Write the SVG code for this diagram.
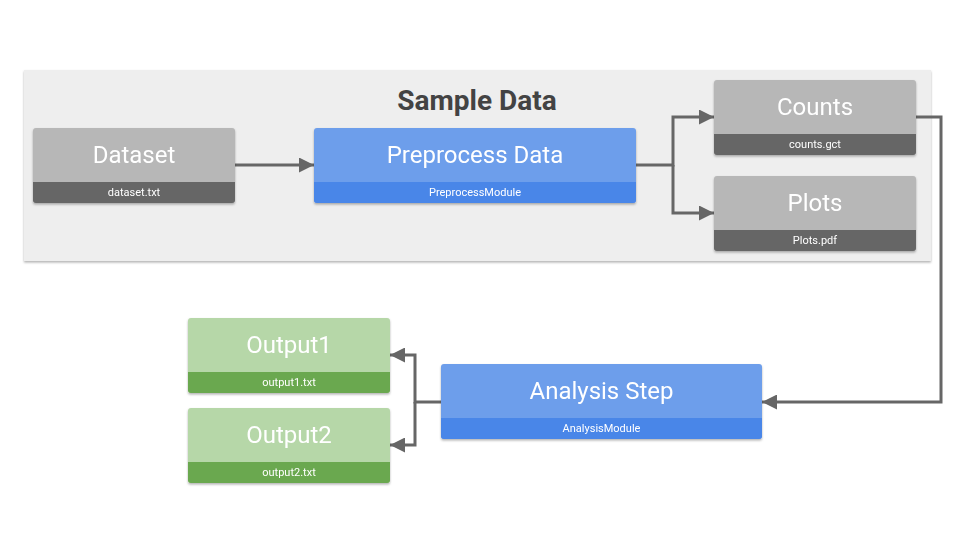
<svg xmlns="http://www.w3.org/2000/svg" width="960" height="540" viewBox="0 0 960 540">
<defs>
<filter id="sh" x="-10%" y="-10%" width="120%" height="130%">
<feDropShadow dx="0" dy="1.5" stdDeviation="1.2" flood-color="#000" flood-opacity="0.3"/>
</filter>
<marker id="ah" viewBox="0 0 10 10" refX="10" refY="5" markerWidth="6.5" markerHeight="5" markerUnits="strokeWidth" orient="auto">
<path d="M0,0 L10,5 L0,10 z" fill="#666666"/>
</marker>
</defs>
<style>
.t{font-family:Roboto,"Liberation Sans",sans-serif;fill:#ffffff;text-anchor:middle}
.big{font-size:24px}
.small{font-size:11px}
.gray{fill:#b7b7b7}
.grayf{fill:#666666}
.blue{fill:#6d9eeb}
.bluef{fill:#4a86e8}
.green{fill:#b6d7a8}
.greenf{fill:#6aa84f}
.c{fill:none;stroke:#666666;stroke-width:3}
</style>
<rect width="960" height="540" fill="#ffffff"/>
<g id="sample-data">
<rect x="24" y="70" width="907" height="191" fill="#eeeeee" filter="url(#sh)"/>
<text x="477" y="110" font-family="Roboto,'Liberation Sans',sans-serif" font-weight="bold" font-size="28" fill="#434343" text-anchor="middle">Sample Data</text>
</g>
<g id="connectors">
<path class="c" d="M235,165 H314" marker-end="url(#ah)"/>
<path class="c" d="M636,165 H673 V117 H714" marker-end="url(#ah)"/>
<path class="c" d="M673,165 V213 H714" marker-end="url(#ah)"/>
<path class="c" d="M916,117 H941 V402 H762" marker-end="url(#ah)"/>
<path class="c" d="M441,402 H415 V355 H390" marker-end="url(#ah)"/>
<path class="c" d="M415,402 V445 H390" marker-end="url(#ah)"/>
</g>
<g id="dataset" filter="url(#sh)">
<rect x="33" y="128" width="202" height="75" rx="3" class="gray"/>
<path d="M33,182 H235 V200 a3,3 0 0 1 -3,3 H36 a3,3 0 0 1 -3,-3 Z" class="grayf"/>
<text x="134" y="163" class="t big">Dataset</text>
<text x="134" y="196" class="t small">dataset.txt</text>
</g>
<g id="preprocess" filter="url(#sh)">
<rect x="314" y="128" width="322" height="75" rx="3" class="blue"/>
<path d="M314,182 H636 V200 a3,3 0 0 1 -3,3 H317 a3,3 0 0 1 -3,-3 Z" class="bluef"/>
<text x="475" y="163" class="t big">Preprocess Data</text>
<text x="475" y="196" class="t small">PreprocessModule</text>
</g>
<g id="counts" filter="url(#sh)">
<rect x="714" y="80" width="202" height="75" rx="3" class="gray"/>
<path d="M714,134 H916 V152 a3,3 0 0 1 -3,3 H717 a3,3 0 0 1 -3,-3 Z" class="grayf"/>
<text x="815" y="115" class="t big">Counts</text>
<text x="815" y="148" class="t small">counts.gct</text>
</g>
<g id="plots" filter="url(#sh)">
<rect x="714" y="176" width="202" height="75" rx="3" class="gray"/>
<path d="M714,230 H916 V248 a3,3 0 0 1 -3,3 H717 a3,3 0 0 1 -3,-3 Z" class="grayf"/>
<text x="815" y="211" class="t big">Plots</text>
<text x="815" y="244" class="t small">Plots.pdf</text>
</g>
<g id="analysis" filter="url(#sh)">
<rect x="441" y="364" width="321" height="75" rx="3" class="blue"/>
<path d="M441,418 H762 V436 a3,3 0 0 1 -3,3 H444 a3,3 0 0 1 -3,-3 Z" class="bluef"/>
<text x="601.5" y="399" class="t big">Analysis Step</text>
<text x="601.5" y="432" class="t small">AnalysisModule</text>
</g>
<g id="output1" filter="url(#sh)">
<rect x="188" y="318" width="202" height="75" rx="3" class="green"/>
<path d="M188,372 H390 V390 a3,3 0 0 1 -3,3 H191 a3,3 0 0 1 -3,-3 Z" class="greenf"/>
<text x="289" y="353" class="t big">Output1</text>
<text x="289" y="386" class="t small">output1.txt</text>
</g>
<g id="output2" filter="url(#sh)">
<rect x="188" y="408" width="202" height="75" rx="3" class="green"/>
<path d="M188,462 H390 V480 a3,3 0 0 1 -3,3 H191 a3,3 0 0 1 -3,-3 Z" class="greenf"/>
<text x="289" y="443" class="t big">Output2</text>
<text x="289" y="476" class="t small">output2.txt</text>
</g>
</svg>
